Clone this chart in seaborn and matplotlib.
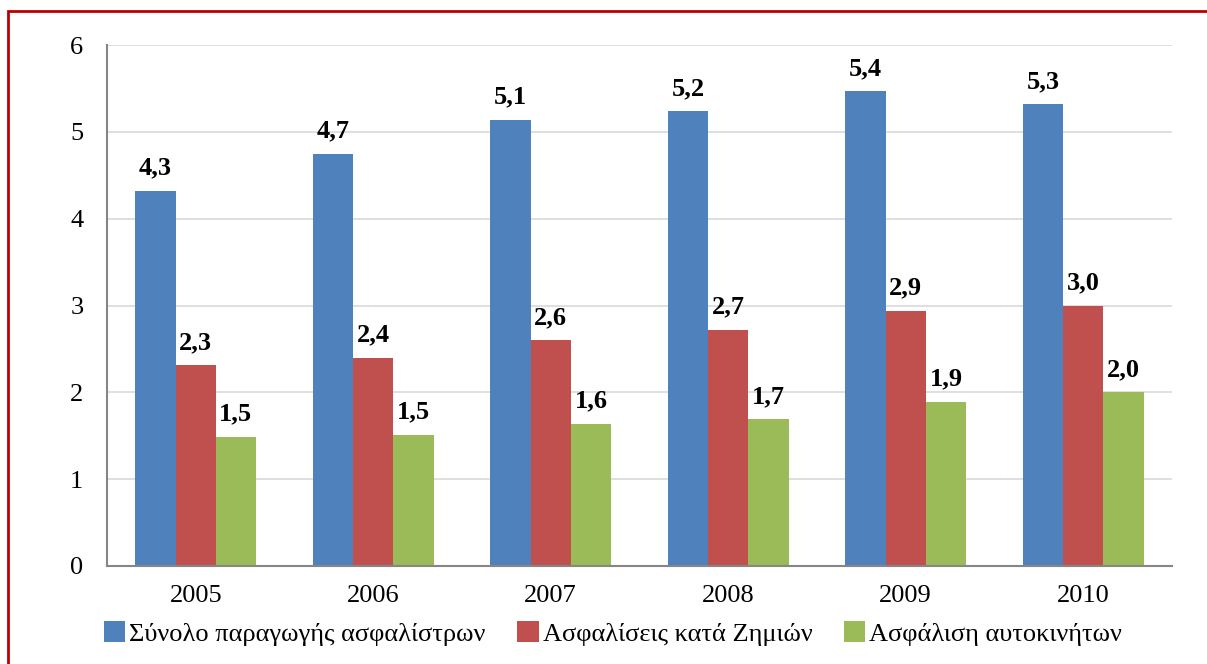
import pandas as pd
import matplotlib
matplotlib.use("Agg")
import matplotlib.pyplot as plt
from matplotlib.patches import Rectangle
from matplotlib.ticker import FixedLocator
import seaborn as sns

# Data
years = ["2005", "2006", "2007", "2008", "2009", "2010"]
series_names = ["Σύνολο παραγωγής ασφαλίστρων", "Ασφαλίσεις κατά Ζημιών", "Ασφάλιση αυτοκινήτων"]
total = [4.32, 4.75, 5.14, 5.24, 5.47, 5.32]
damage = [2.31, 2.40, 2.60, 2.72, 2.94, 3.00]
motor = [1.49, 1.51, 1.64, 1.69, 1.89, 2.00]
total_labels = ["4,3", "4,7", "5,1", "5,2", "5,4", "5,3"]
damage_labels = ["2,3", "2,4", "2,6", "2,7", "2,9", "3,0"]
motor_labels = ["1,5", "1,5", "1,6", "1,7", "1,9", "2,0"]
colors = ["#4F81BD", "#C0504D", "#9BBB59"]

df = pd.DataFrame({
    "year": years * 3,
    "series": [series_names[0]] * 6 + [series_names[1]] * 6 + [series_names[2]] * 6,
    "value": total + damage + motor,
})

sns.set_style("white")
plt.rcParams["font.family"] = ["Liberation Serif", "DejaVu Serif"]
plt.rcParams["text.color"] = "black"
plt.rcParams["xtick.labelcolor"] = "black"
plt.rcParams["ytick.labelcolor"] = "black"

fig = plt.figure(figsize=(12.07, 6.64), dpi=100)
ax = fig.add_axes([0.0886, 0.1476, 0.971 - 0.0886, 0.9322 - 0.1476])

sns.barplot(data=df, x="year", y="value", hue="series", palette=colors,
            width=0.68, saturation=1, linewidth=0, ax=ax, legend=True)

# value labels above bars
for cont, labs in zip(ax.containers, [total_labels, damage_labels, motor_labels]):
    ax.bar_label(cont, labels=labs, padding=8, fontsize=19, fontweight="bold", color="black")

ax.set_ylim(0, 6)
ax.set_xlim(-0.5, 5.5)
ax.set_yticks(range(0, 7))
ax.yaxis.grid(True, color="#d9d9d9", linewidth=1.2)
ax.set_axisbelow(True)
ax.set_xlabel("")
ax.set_ylabel("")

for s in ["top", "right"]:
    ax.spines[s].set_visible(False)
for s in ["left", "bottom"]:
    ax.spines[s].set_color("#868686")
    ax.spines[s].set_linewidth(1.5)

ax.tick_params(axis="y", length=7, width=1.2, color="#868686", labelsize=19, pad=10)
ax.tick_params(axis="x", which="major", length=0, labelsize=19, pad=14)
ax.xaxis.set_minor_locator(FixedLocator([i - 0.5 for i in range(7)]))
ax.tick_params(axis="x", which="minor", length=7, width=1.2, color="#868686")

handles, labels = ax.get_legend_handles_labels()
ax.get_legend().remove()
fig.legend(handles, labels, loc="center", bbox_to_anchor=(0.508, 0.046), ncol=3,
           frameon=False, fontsize=19, handlelength=0.8, handleheight=0.8,
           handletextpad=0.15, columnspacing=1.2, labelcolor="black")

# red frame around the chart
fig.patches.append(Rectangle((0.0066, -0.1), 1.2, 1.0834, transform=fig.transFigure,
                             fill=False, edgecolor="#C00000", linewidth=2, clip_on=False))

fig.savefig("out.png", dpi=100)
